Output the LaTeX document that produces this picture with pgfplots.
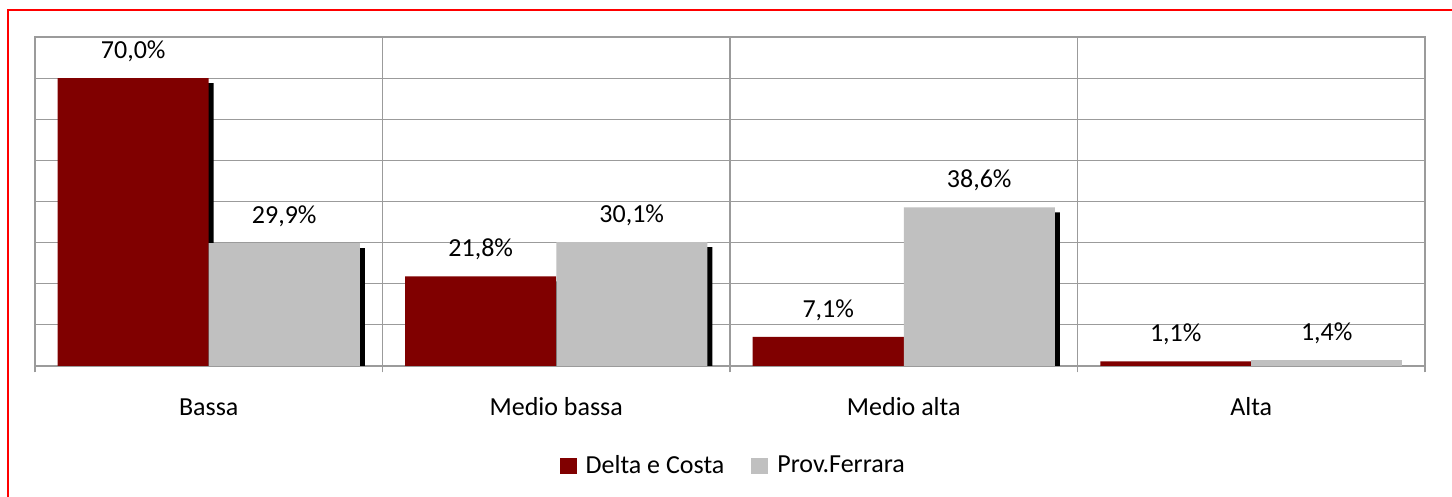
\documentclass[border=0pt]{standalone}
\usepackage{pgfplots}
\pgfplotsset{compat=1.18}
\usepackage{fontspec}
\setmainfont{Carlito}
\definecolor{dred}{RGB}{128,0,0}
\definecolor{lgrey}{RGB}{192,192,192}
\definecolor{gridc}{RGB}{155,155,155}
\begin{document}
\begin{tikzpicture}[x=1pt,y=1pt]
\path[use as bounding box] (0,0) rectangle (726,248.5);
\fill[white] (0,0) rectangle (726,248.5);
\draw[red, line width=0.65pt] (4,0) -- (4,243.5) -- (726,243.5);
\begin{axis}[
 at={(17.5pt,65.5pt)}, anchor=south west,
 scale only axis, width=695pt, height=164.5pt,
 ybar, bar width=75.5pt,
 xmin=-0.5, xmax=3.5, ymin=0, ymax=80,
 xtick={0,1,2,3}, xticklabels={Bassa, Medio bassa, Medio alta, Alta},
 minor xtick={-0.5,0.5,1.5,2.5,3.5},
 xminorgrids, ymajorgrids, ytick={0,10,...,80}, yticklabels={},
 major tick length=0pt, minor tick length=3.25pt, tick align=outside,
 xtick pos=bottom, ytick pos=left,
 axis line style={gridc, line width=0.55pt},
 grid style={gridc, line width=0.55pt},
 minor grid style={gridc, line width=0.55pt},
 tick style={gridc, line width=0.55pt},
 tick label style={font=\fontsize{13}{15}\selectfont},
 xticklabel style={anchor=base, yshift=-25pt},
 /pgf/number format/assume math mode=true,
 nodes near coords={\pgfmathprintnumber[fixed, fixed zerofill, precision=1, use comma]{\pgfplotspointmeta}\%},
 every node near coord/.append style={font=\fontsize{13}{15}\selectfont, anchor=base, yshift=9.8pt, inner sep=0pt, text=black},
 legend columns=2,
 legend style={at={(0.503,-0.304)}, anchor=center, draw=none, fill=none,
   font=\fontsize{13}{15}\selectfont,
   /tikz/every even column/.append style={column sep=11.5pt}},
 legend image code/.code={\fill[#1] (0pt,-4pt) rectangle (8.5pt,4pt); \path (11pt,0pt);},
]
\addplot[fill=dred, draw=none, bar shift=-37.75pt, forget plot,
  preaction={fill=black, transform canvas={xshift=2.5pt, yshift=-2.5pt}}]
  coordinates {(0,70.0) (1,21.8) (2,7.1) (3,1.1)};
\addplot[fill=lgrey, draw=none, bar shift=37.75pt, forget plot,
  preaction={fill=black, transform canvas={xshift=2.5pt, yshift=-2.5pt}}]
  coordinates {(0,29.9) (1,30.1) (2,38.6)};
\addplot[fill=lgrey, draw=none, bar shift=37.75pt, forget plot]
  coordinates {(3,1.4)};
\addlegendimage{fill=dred, draw=none}
\addlegendentry{Delta e Costa}
\addlegendimage{fill=lgrey, draw=none}
\addlegendentry{Prov.Ferrara}
\end{axis}
\end{tikzpicture}
\end{document}
